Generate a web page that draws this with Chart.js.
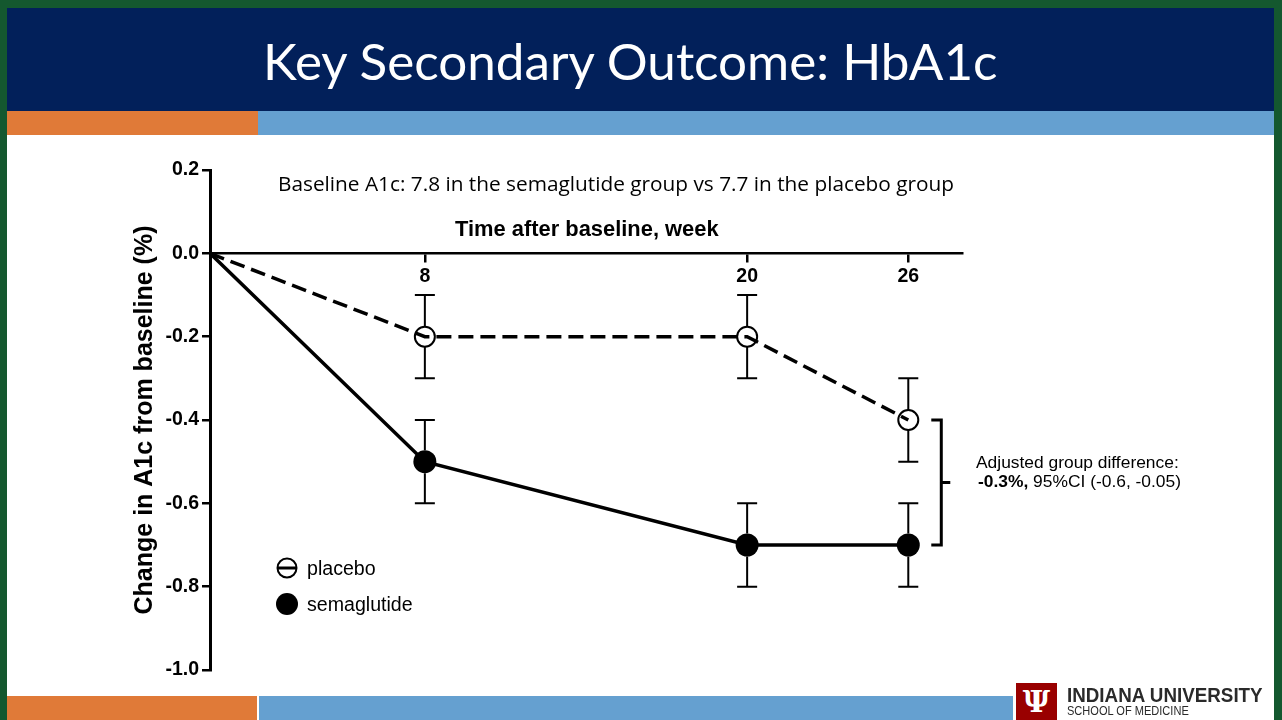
<!DOCTYPE html>
<html><head><meta charset="utf-8">
<script src="https://cdn.jsdelivr.net/npm/chart.js@4"></script>
<style>
html,body{margin:0;padding:0;}
body{width:1282px;height:720px;position:relative;overflow:hidden;background:#14582f;font-family:"Liberation Sans",Arial,sans-serif;color:#000;}
.abs{position:absolute;white-space:nowrap;}
#slide{left:7px;top:8px;width:1267px;height:712px;background:#fff;}
#header{left:7px;top:8px;width:1267px;height:103px;background:#02205a;}
#title{left:263px;top:30px;height:60px;line-height:60px;font-family:Lato,"Open Sans",sans-serif;font-size:51.2px;color:#fff;}
#orTop{left:7px;top:111px;width:251px;height:24px;background:#e07a38;}
#blTop{left:258px;top:111px;width:1016px;height:24px;background:#65a0d0;}
#orBot{left:7px;top:696px;width:250px;height:24px;background:#e07a38;}
#blBot{left:259px;top:696px;width:754px;height:24px;background:#65a0d0;}
#chartWrap{left:0;top:0;width:1282px;height:720px;}
#baseline{left:278px;top:171px;height:24px;line-height:24px;font-family:"Open Sans",Lato,sans-serif;font-size:20.8px;}
#xTitle{left:455px;top:217px;height:24px;line-height:24px;font-weight:bold;font-size:21.9px;}
.leg{left:307px;height:22px;line-height:22px;font-size:19.6px;}
.ann{left:976px;height:20px;line-height:20px;font-size:17.4px;}
#logoBox{left:1016px;top:683px;width:41px;height:37px;background:#990000;color:#fff;text-align:center;font-family:"DejaVu Serif",serif;font-weight:bold;font-size:30px;line-height:37px;}
#iu1{left:1067px;top:684px;font-weight:bold;font-size:21px;line-height:22px;color:#2a2a2a;transform-origin:0 0;transform:scaleX(0.895);}
#iu2{left:1067px;top:704px;font-size:13px;line-height:14px;color:#2a2a2a;transform-origin:0 0;transform:scaleX(0.85);}
</style>
</head><body>
<div id="slide" class="abs"></div>
<div id="header" class="abs"></div>
<div id="title" class="abs">Key Secondary Outcome: HbA1c</div>
<div id="orTop" class="abs"></div>
<div id="blTop" class="abs"></div>
<div id="orBot" class="abs"></div>
<div id="blBot" class="abs"></div>
<div id="chartWrap" class="abs"><canvas id="c"></canvas></div>
<div id="baseline" class="abs">Baseline A1c: 7.8 in the semaglutide group vs 7.7 in the placebo group</div>
<div id="xTitle" class="abs">Time after baseline, week</div>
<div class="abs leg" style="top:557px">placebo</div>
<div class="abs leg" style="top:593px">semaglutide</div>
<div class="abs ann" style="top:452px">Adjusted group difference:</div>
<div class="abs ann" style="top:471px;left:978px"><b>-0.3%,</b> 95%CI (-0.6, -0.05)</div>
<div id="logoBox" class="abs">&#936;</div>
<div id="iu1" class="abs">INDIANA UNIVERSITY</div>
<div id="iu2" class="abs">SCHOOL OF MEDICINE</div>
<script>
// ---- data ----
const weeks = [0, 8, 20, 26];
const placebo = [0, -0.2, -0.2, -0.4];
const semaglutide = [0, -0.5, -0.7, -0.7];
const placeboErr = [0, 0.1, 0.1, 0.1];
const semaglutideErr = [0, 0.1, 0.1, 0.1];
const xTickValues = [8, 20, 26];
const yTickValues = [0.2, 0.0, -0.2, -0.4, -0.6, -0.8, -1.0];

const errs = [placeboErr, semaglutideErr];
const radii = [10, 11.5];

const errorBarPlugin = {
  id: 'errbars',
  beforeDatasetsDraw(chart) {
    const ctx = chart.ctx, xs = chart.scales.x, ys = chart.scales.y;
    ctx.save();
    ctx.strokeStyle = '#000';
    ctx.lineWidth = 2;
    chart.data.datasets.forEach((ds, d) => {
      ds.data.forEach((p, i) => {
        const e = errs[d][i];
        if (!e) return;
        const x = xs.getPixelForValue(p.x);
        const yc = ys.getPixelForValue(p.y);
        const yt = ys.getPixelForValue(p.y + e);
        const yb = ys.getPixelForValue(p.y - e);
        const r = radii[d];
        ctx.beginPath();
        ctx.moveTo(x, yt); ctx.lineTo(x, yc - r);
        ctx.moveTo(x, yc + r); ctx.lineTo(x, yb);
        ctx.moveTo(x - 10, yt); ctx.lineTo(x + 10, yt);
        ctx.moveTo(x - 10, yb); ctx.lineTo(x + 10, yb);
        ctx.stroke();
      });
    });
    ctx.restore();
  },
  afterDraw(chart) {
    const ctx = chart.ctx, xs = chart.scales.x, ys = chart.scales.y;
    const last = weeks.length - 1;
    const bx = xs.getPixelForValue(weeks[last]) + 33;
    const y1 = ys.getPixelForValue(placebo[last]);
    const y2 = ys.getPixelForValue(semaglutide[last]);
    const ym = (y1 + y2) / 2;
    ctx.save();
    ctx.strokeStyle = '#000';
    ctx.lineWidth = 3;
    ctx.beginPath();
    ctx.moveTo(bx - 10, y1); ctx.lineTo(bx, y1); ctx.lineTo(bx, y2); ctx.lineTo(bx - 10, y2);
    ctx.moveTo(bx, ym); ctx.lineTo(bx + 9, ym);
    ctx.stroke();
    // legend symbols
    ctx.lineWidth = 2;
    ctx.beginPath();
    ctx.arc(287, 568, 9.5, 0, Math.PI * 2);
    ctx.stroke();
    ctx.lineWidth = 3;
    ctx.beginPath();
    ctx.moveTo(277, 568); ctx.lineTo(297, 568);
    ctx.stroke();
    ctx.fillStyle = '#000';
    ctx.beginPath();
    ctx.arc(287, 604, 11, 0, Math.PI * 2);
    ctx.fill();
    ctx.restore();
  }
};

const mk = (arr) => weeks.map((w, i) => ({x: w, y: arr[i]}));

new Chart(document.getElementById('c'), {
  type: 'scatter',
  data: {
    datasets: [
      {
        label: 'placebo',
        data: mk(placebo),
        showLine: true,
        borderColor: '#000',
        borderWidth: 3.5,
        borderDash: [15, 7],
        pointRadius: weeks.map((w, i) => i === 0 ? 0 : radii[0]),
        pointBackgroundColor: 'rgba(0,0,0,0)',
        pointBorderColor: '#000',
        pointBorderWidth: 2
      },
      {
        label: 'semaglutide',
        data: mk(semaglutide),
        showLine: true,
        borderColor: '#000',
        borderWidth: 3.5,
        pointRadius: weeks.map((w, i) => i === 0 ? 0 : radii[1]),
        pointBackgroundColor: '#000',
        pointBorderColor: '#000',
        pointBorderWidth: 0
      }
    ]
  },
  options: {
    responsive: true,
    maintainAspectRatio: false,
    animation: false,
    events: [],
    layout: { padding: { left: 126, top: 170, right: 320, bottom: 50 } },
    plugins: { legend: { display: false }, tooltip: { enabled: false } },
    scales: {
      x: {
        type: 'linear',
        min: 0, max: 28,
        position: { y: 0 },
        afterBuildTicks: s => { s.ticks = xTickValues.map(v => ({ value: v })); },
        grid: { drawOnChartArea: false, drawTicks: true, tickLength: 8, color: '#000', lineWidth: 2.5 },
        border: { color: '#000', width: 2.5 },
        ticks: { color: '#000', font: { family: 'Liberation Sans', weight: 'bold', size: 19.5 }, padding: 4, maxRotation: 0, autoSkip: false }
      },
      y: {
        type: 'linear',
        min: -1.0, max: 0.2,
        position: 'left',
        afterBuildTicks: s => { s.ticks = yTickValues.map(v => ({ value: v })); },
        afterFit: s => { s.width = 84; },
        grid: { drawOnChartArea: false, drawTicks: true, tickLength: 8, color: '#000', lineWidth: 2.5 },
        border: { color: '#000', width: 3 },
        ticks: {
          color: '#000', padding: 3,
          font: { family: 'Liberation Sans', weight: 'bold', size: 19.5 },
          callback: v => (Math.abs(v) < 1e-9 ? 0 : v).toFixed(1)
        },
        title: {
          display: true,
          text: 'Change in A1c from baseline (%)',
          color: '#000',
          font: { family: 'Liberation Sans', weight: 'bold', size: 25 },
          padding: { top: 4, bottom: 4 }
        }
      }
    }
  },
  plugins: [errorBarPlugin]
});
</script>
</body></html>
